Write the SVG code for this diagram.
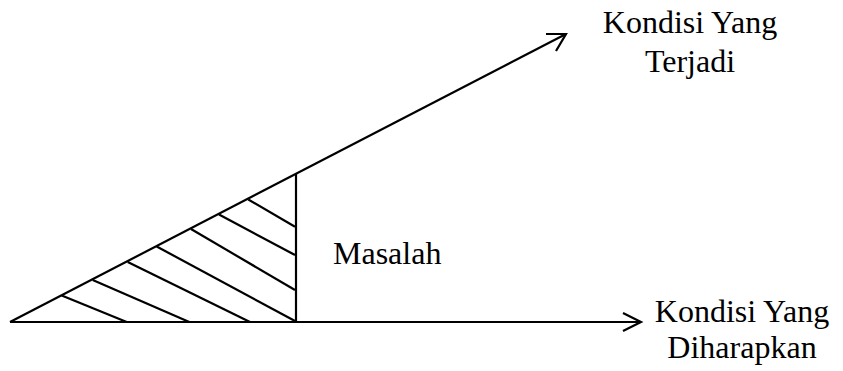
<svg xmlns="http://www.w3.org/2000/svg" width="843" height="371" viewBox="0 0 843 371">
<style>
.ln{stroke:#000;stroke-width:2.2;fill:none;stroke-linecap:butt}
.ah{stroke:#000;stroke-width:2.2;fill:none;stroke-linejoin:miter}
.t{font-family:"Liberation Serif","Times New Roman",serif;font-size:32px;fill:#000}
</style>
<rect width="843" height="371" fill="#fff"/>
<g id="connectors">
<line class="ln" x1="10" y1="322" x2="640" y2="322"/>
<polyline class="ah" points="623,313 641,322 623,331"/>
<line class="ln" x1="10" y1="322" x2="565" y2="34.5"/>
<polyline class="ah" points="546,34 566,34 556,51"/>
</g>
<g id="problem-area">
<line class="ln" x1="296" y1="174" x2="296" y2="323"/>
<g class="ln">
<line x1="61.7" y1="295.5" x2="126.7" y2="322"/>
<line x1="92.7" y1="280" x2="189.3" y2="322"/>
<line x1="127.7" y1="262" x2="250" y2="322"/>
<line x1="156.7" y1="246.5" x2="295" y2="321"/>
<line x1="191" y1="229" x2="295" y2="290"/>
<line x1="219" y1="214.5" x2="295" y2="255"/>
<line x1="248.3" y1="199.5" x2="295" y2="226.7"/>
</g>
</g>
<g id="label-masalah"><text class="t" x="333" y="264">Masalah</text></g>
<g id="label-terjadi"><text class="t" x="690" y="33" text-anchor="middle">Kondisi Yang</text><text class="t" x="690" y="72" text-anchor="middle">Terjadi</text></g>
<g id="label-diharapkan"><text class="t" x="742" y="322" text-anchor="middle">Kondisi Yang</text><text class="t" x="742" y="358" text-anchor="middle">Diharapkan</text></g>
</svg>
